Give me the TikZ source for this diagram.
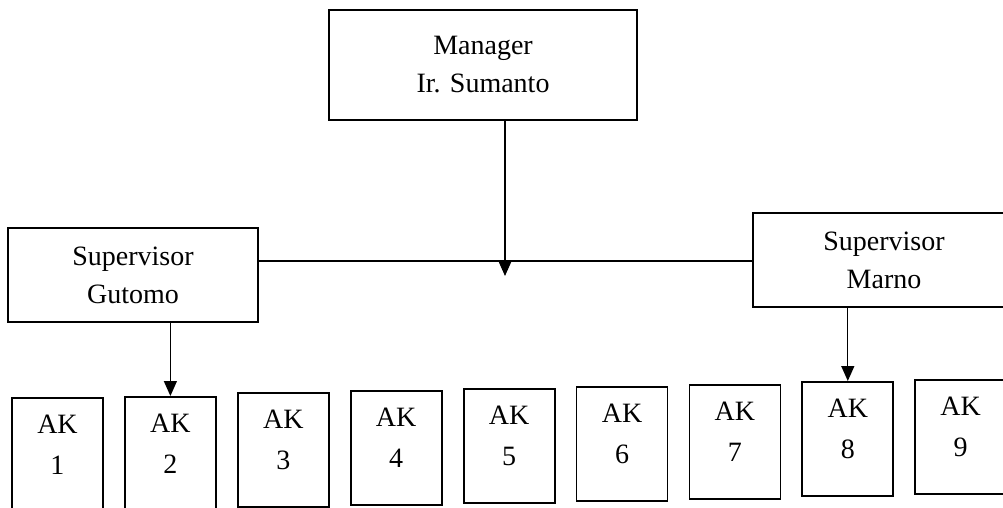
\documentclass[tikz,border=0pt]{standalone}
\usepackage{fontspec}
\setmainfont{Liberation Serif}
\usetikzlibrary{arrows.meta, positioning, calc}

\begin{document}
\begin{tikzpicture}[
    x=1pt, y=-1pt,
    unit/.style={draw, rectangle, line width=1.8pt, inner sep=0pt, align=center, font=\fontsize{28}{38}\selectfont, minimum width=#1},
    ak/.style={unit=91pt, minimum height=114pt, anchor=north, font=\fontsize{28}{41}\selectfont, text depth=20pt},
    link/.style={line width=1.3pt},
    arrow/.style={-{Triangle[length=15pt, width=13pt]}, line width=1.3pt},
]
\useasboundingbox (0,0) rectangle (1003,508);
\clip (0,0) rectangle (1003,508);

% Manager
\node[unit=308pt, minimum height=110pt] (manager) at (483,65) {Manager\\Ir. Sumanto};

% Supervisor
\node[unit=250pt, minimum height=94pt] (gutomo) at (133,275) {Supervisor\\Gutomo};
\node[unit=262pt, minimum height=94pt] (marno) at (884,260) {Supervisor\\Marno};

% Anak buah
\foreach \i/\top in {1/397, 2/396, 3/392, 4/390, 5/388, 6/386, 7/384, 8/381, 9/379}
    \node[ak] (ak\i) at ({57.5+112.9*(\i-1)},\top) {AK\\\i};

% Garis
\coordinate (jct) at (505,261);
\coordinate (tip) at (505,276);
\draw[arrow] (manager.south -| jct) -- (tip);
\draw[link] (gutomo.east |- jct) -- (marno.west |- jct);
\draw[arrow] (gutomo.south -| ak2) -- (ak2.north);
\draw[arrow] (marno.south -| ak8) -- (ak8.north);

\end{tikzpicture}
\end{document}
